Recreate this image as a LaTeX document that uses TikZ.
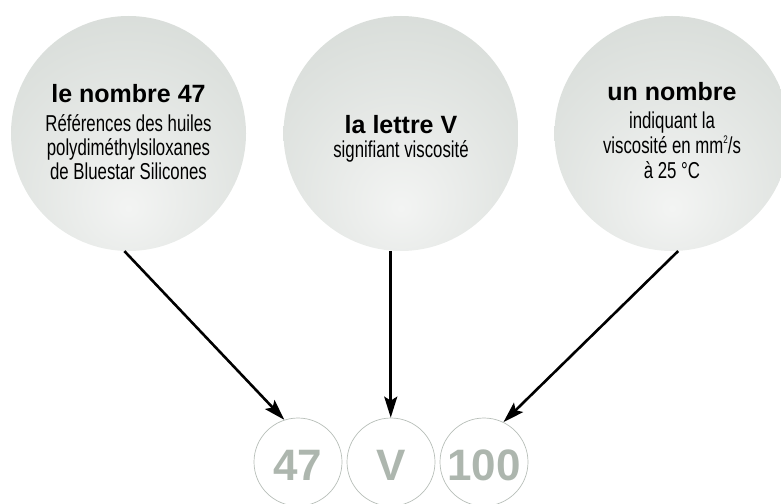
\documentclass[tikz,border=0pt]{standalone}
\usepackage{fontspec}
\setmainfont{Liberation Sans}
\newfontfamily\narrowfont[FakeStretch=0.73]{Liberation Sans}
\usetikzlibrary{arrows.meta}

% soft grey sphere, brightest a little below the middle
\definecolor{ballrim}{HTML}{C5CCC7}
\definecolor{ballmid}{HTML}{D5DAD6}
\definecolor{ballhi}{HTML}{F3F4F3}
\definecolor{digitgrey}{HTML}{ADB6AE}
\definecolor{ringgrey}{HTML}{B7BEB8}
\pgfdeclareradialshading{ball}{\pgfpoint{0bp}{-16bp}}{%
  color(0bp)=(ballhi);
  color(22bp)=(ballmid!55!ballhi);
  color(42bp)=(ballmid);
  color(60bp)=(ballrim);
  color(100bp)=(ballrim)}

\tikzset{
  ball/.style={circle, minimum size=235pt, inner sep=0pt, shading=ball},
  ring/.style={circle, minimum size=88pt, inner sep=0pt, draw=ringgrey, line width=0.7pt},
  digits/.style={anchor=base, inner sep=0pt, font=\fontsize{44}{44}\bfseries\selectfont, text=digitgrey},
  headline/.style={anchor=base, inner sep=0pt, font=\fontsize{25}{26}\bfseries\selectfont},
  bodyline/.style={anchor=base, inner sep=0pt, font=\narrowfont\fontsize{23}{24}\selectfont},
  pointer/.style={line width=2.6pt, -{Stealth[length=21pt, width=13pt, inset=4pt]}},
}

\begin{document}
\begin{tikzpicture}[x=1pt, y=-1pt]
\useasboundingbox (0,0) rectangle (781,503);

% the three spheres
\node[ball] (c1) at (128.5,133.5) {};
\node[ball] (c2) at (401,133.5) {};
\node[ball] (c3) at (672,133.5) {};

% texts inside the spheres
\node[headline] (h1) at (128.5,102) {le nombre 47};
\node[bodyline] (b1a) at (128.5,131) {Références des huiles};
\node[bodyline] (b1b) at (128.5,155) {polydiméthylsiloxanes};
\node[bodyline] (b1c) at (128.5,179) {de Bluestar Silicones};

\node[headline] (h2) at (401,133) {la lettre V};
\node[bodyline] (b2a) at (401,157) {signifiant viscosité};

\node[headline] (h3) at (672,100) {un nombre};
\node[bodyline] (b3a) at (672,128) {indiquant la};
\node[bodyline] (b3b) at (672,153) {viscosité en mm\raisebox{0.75ex}{\fontsize{11}{11}\selectfont 2}/s};
\node[bodyline] (b3c) at (672,178) {à 25 °C};

% the reference code
\node[ring] (s1) at (298,462) {};
\node[ring] (s2) at (391,462) {};
\node[ring] (s3) at (484,462) {};
\node[digits] (d1) at (298,480) {47};
\node[digits] (d2) at (391,480) {V};
\node[digits] (d3) at (484,480) {100};

% pointers
\draw[pointer] (c1.268) -- (s1.108);
\draw[pointer] (c2.265) -- (c2.265 |- s2.north);
\draw[pointer] (c3.273) -- (s3.64);
\end{tikzpicture}
\end{document}
